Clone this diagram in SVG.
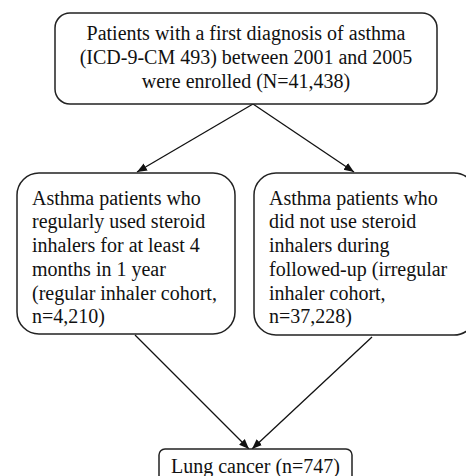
<svg xmlns="http://www.w3.org/2000/svg" width="466" height="476" viewBox="0 0 466 476">
<defs>
<marker id="ah" viewBox="0 0 10 10" refX="10" refY="5" markerWidth="10" markerHeight="10" markerUnits="userSpaceOnUse" orient="auto">
<path d="M0,1 L10,5 L0,9 Z" fill="#111"/>
</marker>
</defs>
<style>
.box{fill:#fff;stroke:#222;stroke-width:1.5}
.t{font-family:"Liberation Serif","Times New Roman",serif;font-size:20px;fill:#111}
.c{text-anchor:middle}
.ln{stroke:#111;stroke-width:1.3;fill:none;marker-end:url(#ah)}
</style>
<rect width="466" height="476" fill="#fff"/>
<g id="connectors">
<line class="ln" x1="253" y1="104" x2="137" y2="172"/>
<line class="ln" x1="253" y1="104" x2="354" y2="172"/>
<line class="ln" x1="135" y1="335" x2="249" y2="449"/>
<line class="ln" x1="372" y1="337" x2="252" y2="449"/>
</g>
<g id="top">
<rect class="box" x="55" y="13" width="382" height="91" rx="15"/>
<text class="t c" x="246" y="40">Patients with a first diagnosis of asthma</text>
<text class="t c" x="246" y="64">(ICD-9-CM 493) between 2001 and 2005</text>
<text class="t c" x="246" y="88">were enrolled (N=41,438)</text>
</g>
<g id="regular">
<rect class="box" x="17" y="173" width="218" height="161" rx="22"/>
<text class="t" x="32" y="205">Asthma patients who</text>
<text class="t" x="32" y="228">regularly used steroid</text>
<text class="t" x="32" y="252">inhalers for at least 4</text>
<text class="t" x="32" y="276">months in 1 year</text>
<text class="t" x="32" y="300">(regular inhaler cohort,</text>
<text class="t" x="32" y="323">n=4,210)</text>
</g>
<g id="irregular">
<rect class="box" x="254" y="173" width="222" height="162" rx="22"/>
<text class="t" x="269" y="205">Asthma patients who</text>
<text class="t" x="269" y="228">did not use steroid</text>
<text class="t" x="269" y="252">inhalers during</text>
<text class="t" x="269" y="276">followed-up (irregular</text>
<text class="t" x="269" y="300">inhaler cohort,</text>
<text class="t" x="269" y="323">n=37,228)</text>
</g>
<g id="lung">
<rect class="box" x="159" y="449" width="193" height="40" rx="6"/>
<text class="t c" x="255.5" y="473">Lung cancer (n=747)</text>
</g>
</svg>
